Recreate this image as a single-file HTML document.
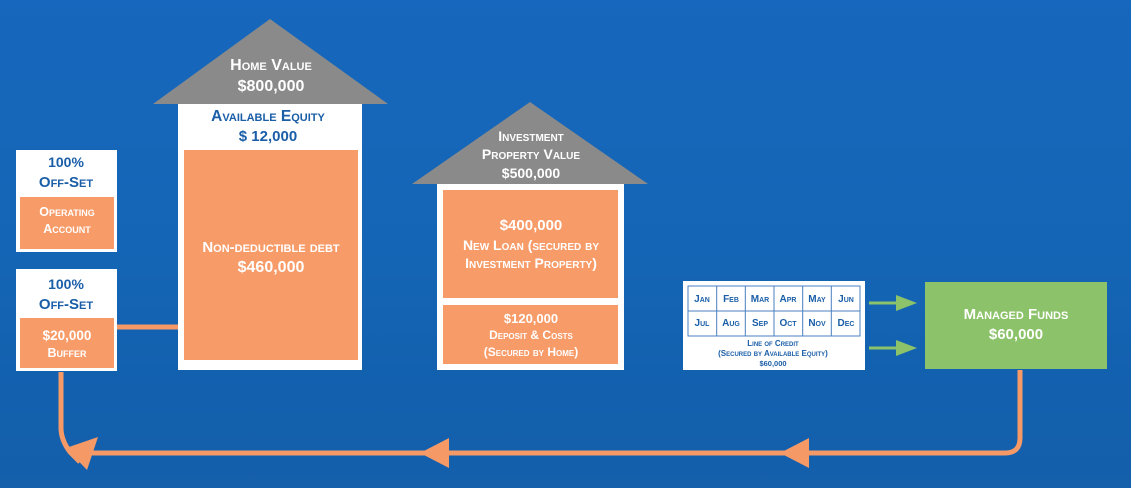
<!DOCTYPE html>
<html><head><meta charset="utf-8"><style>
html,body{margin:0;padding:0;width:1131px;height:488px;overflow:hidden;background:#1565b8}
svg{display:block}
text{font-family:"Liberation Sans",sans-serif;font-weight:bold;text-anchor:middle}
.sc{font-variant:small-caps}
</style></head><body>
<svg width="1131" height="488" viewBox="0 0 1131 488">
<defs>
<linearGradient id="bg" x1="0" y1="0" x2="0" y2="1">
<stop offset="0" stop-color="#1667bd"/><stop offset="0.55" stop-color="#1565b5"/><stop offset="0.8" stop-color="#1260ae"/><stop offset="1" stop-color="#155fab"/>
</linearGradient>
</defs>
<rect width="1131" height="488" fill="url(#bg)"/>

<!-- connectors -->
<g stroke="#f59a67" stroke-width="5" fill="none">
<line x1="117" y1="327" x2="178" y2="327"/>
<path d="M1020 370 V438 Q1020 453 1005 453 H92"/>
<path d="M61 372 V428 Q61 440 70 452 L80 462"/>
</g>
<g fill="#f59a67">
<polygon points="420,453 449,438 449,468"/>
<polygon points="780,453 809,438 809,468"/>
<polygon points="98,437 87,470 66,448"/>
</g>
<g stroke="#8cc26a" stroke-width="3"><line x1="869" y1="303" x2="900" y2="303"/><line x1="869" y1="348" x2="900" y2="348"/></g>
<g fill="#8cc26a"><polygon points="917,303 896,295 896,311"/><polygon points="917,348 896,340 896,356"/></g>

<!-- left boxes -->
<rect x="16" y="150" width="101" height="102" fill="#fff"/>
<rect x="20" y="197" width="94" height="52" fill="#f79b68"/>
<text x="66" y="167" font-size="14" fill="#1a5ea8">100%</text>
<text x="66" y="187" font-size="15" fill="#1a5ea8" class="sc">Off-Set</text>
<text x="67" y="216" font-size="12.5" fill="#fff" class="sc">Operating</text>
<text x="67" y="233" font-size="12.5" fill="#fff" class="sc">Account</text>
<rect x="16" y="269" width="101" height="102" fill="#fff"/>
<rect x="20" y="318" width="94" height="50" fill="#f79b68"/>
<text x="66" y="289" font-size="14" fill="#1a5ea8">100%</text>
<text x="66" y="309" font-size="15" fill="#1a5ea8" class="sc">Off-Set</text>
<text x="67" y="340" font-size="13.5" fill="#fff">$20,000</text>
<text x="67" y="357" font-size="12.5" fill="#fff" class="sc">Buffer</text>

<!-- home -->
<polygon points="270,19 388,104 153,104" fill="#8a8a8a"/>
<rect x="178" y="104" width="184" height="266" fill="#fff"/>
<rect x="184" y="150" width="174" height="210" fill="#f79b68"/>
<text x="271" y="70" font-size="16" fill="#fff" class="sc">Home Value</text>
<text x="271" y="91" font-size="16" fill="#fff">$800,000</text>
<text x="268" y="121" font-size="15.5" fill="#1a5ea8" class="sc">Available Equity</text>
<text x="268" y="141" font-size="15" fill="#1a5ea8">$ 12,000</text>
<text x="271" y="252" font-size="15" fill="#fff" class="sc">Non-deductible debt</text>
<text x="271" y="272" font-size="16" fill="#fff">$460,000</text>

<!-- investment -->
<polygon points="530,102 648,184 412,184" fill="#8a8a8a"/>
<rect x="437" y="184" width="187" height="186" fill="#fff"/>
<rect x="443" y="190" width="175" height="108" fill="#f79b68"/>
<rect x="443" y="305" width="175" height="59" fill="#f79b68"/>
<text x="531" y="141" font-size="14" fill="#fff" class="sc">Investment</text>
<text x="531" y="159" font-size="14" fill="#fff" class="sc">Property Value</text>
<text x="531" y="178" font-size="14" fill="#fff">$500,000</text>
<text x="531" y="230" font-size="15" fill="#fff">$400,000</text>
<text x="531" y="250" font-size="14" fill="#fff" class="sc">New Loan (secured by</text>
<text x="531" y="268" font-size="14" fill="#fff" class="sc">Investment Property)</text>
<text x="531" y="323" font-size="13" fill="#fff">$120,000</text>
<text x="531" y="339" font-size="12" fill="#fff" class="sc">Deposit &amp; Costs</text>
<text x="531" y="356" font-size="12" fill="#fff" class="sc">(Secured by Home)</text>

<!-- calendar -->
<rect x="683" y="281" width="182" height="89" fill="#fff"/>
<g stroke="#4a7fbf" stroke-width="1" fill="none">
<rect x="688" y="286" width="172" height="50"/>
<line x1="688" y1="311" x2="860" y2="311"/>
<line x1="716.7" y1="286" x2="716.7" y2="336"/><line x1="745.3" y1="286" x2="745.3" y2="336"/><line x1="774" y1="286" x2="774" y2="336"/><line x1="802.7" y1="286" x2="802.7" y2="336"/><line x1="831.3" y1="286" x2="831.3" y2="336"/>
</g>
<g font-size="10" fill="#1a5ea8" class="sc">
<text x="702" y="302">Jan</text><text x="731" y="302">Feb</text><text x="760" y="302">Mar</text><text x="788" y="302">Apr</text><text x="817" y="302">May</text><text x="846" y="302">Jun</text>
<text x="702" y="326">Jul</text><text x="731" y="326">Aug</text><text x="760" y="326">Sep</text><text x="788" y="326">Oct</text><text x="817" y="326">Nov</text><text x="846" y="326">Dec</text>
</g>
<text x="773" y="346" font-size="8" fill="#1a5ea8" class="sc">Line of Credit</text>
<text x="773" y="356" font-size="8" fill="#1a5ea8" class="sc">(Secured by Available Equity)</text>
<text x="773" y="366" font-size="7.5" fill="#1a5ea8">$60,000</text>

<!-- managed funds -->
<rect x="925" y="282" width="182" height="87" fill="#8cc26a"/>
<text x="1016" y="319" font-size="15" fill="#fff" class="sc">Managed Funds</text>
<text x="1016" y="339" font-size="15" fill="#fff">$60,000</text>
</svg>
</body></html>
